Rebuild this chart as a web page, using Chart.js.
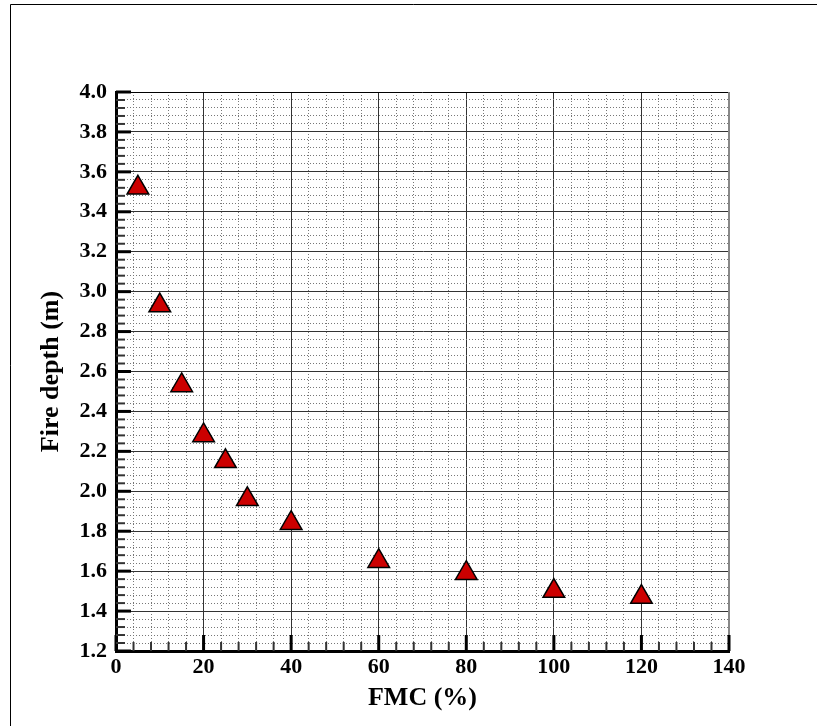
<!DOCTYPE html>
<html>
<head>
<meta charset="utf-8">
<script src="https://cdn.jsdelivr.net/npm/chart.js@4/dist/chart.umd.min.js"></script>
<style>
  html, body { margin: 0; padding: 0; background: #fff; }
  #wrap { position: relative; width: 817px; height: 726px; }
</style>
</head>
<body>
<div id="wrap"><canvas id="chart" width="817" height="726"></canvas></div>
<script>
// ---- data ----
const fmc = [5, 10, 15, 20, 25, 30, 40, 60, 80, 100, 120];
const fireDepth = [3.52, 2.93, 2.53, 2.28, 2.15, 1.96, 1.84, 1.65, 1.59, 1.50, 1.47];

// ---- tick labels ----
const xTickLabels = ['0', '20', '40', '60', '80', '100', '120', '140'];
const yTickLabels = ['1.2', '1.4', '1.6', '1.8', '2.0', '2.2', '2.4', '2.6', '2.8', '3.0', '3.2', '3.4', '3.6', '3.8', '4.0'];

const serif = 'Liberation Serif';

function isMajorX(v) { return xTickLabels.includes(String(Math.round(v))) && Math.abs(v - Math.round(v)) < 1e-6; }
function isMajorY(v) { return yTickLabels.includes(v.toFixed(1)) && Math.abs(v * 100 - Math.round(v * 100)) < 1e-6 && Math.round(v * 100) % 20 === 0; }

// inward tick marks + top/right frame + outer page border
const frameAndTicks = {
  id: 'frameAndTicks',
  beforeDraw(chart) {
    const c = chart.ctx;
    c.save();
    c.strokeStyle = '#000';
    c.lineWidth = 1;
    c.beginPath();
    c.moveTo(10.5, 726); c.lineTo(10.5, 4.5); c.lineTo(817, 4.5);
    c.stroke();
    c.restore();
  },
  beforeDatasetsDraw(chart) {
    const c = chart.ctx;
    const a = chart.chartArea;
    const x = chart.scales.x, y = chart.scales.y;
    c.save();
    // top and right frame
    c.lineWidth = 1;
    c.strokeStyle = '#000';
    c.beginPath(); c.moveTo(a.left, a.top + 0.5); c.lineTo(a.right, a.top + 0.5); c.stroke();
    c.lineWidth = 2;
    c.strokeStyle = '#888';
    c.beginPath(); c.moveTo(a.right, a.top); c.lineTo(a.right, a.bottom); c.stroke();
    // x ticks on bottom axis, pointing in
    x.ticks.forEach(t => {
      const px = x.getPixelForValue(t.value);
      const major = isMajorX(t.value);
      c.lineWidth = major ? 3 : 2;
      c.strokeStyle = major ? '#000' : '#333';
      c.beginPath(); c.moveTo(px, a.bottom); c.lineTo(px, a.bottom - (major ? 16 : 9)); c.stroke();
    });
    // y ticks on left axis, pointing in
    y.ticks.forEach(t => {
      const py = y.getPixelForValue(t.value);
      const major = isMajorY(t.value);
      c.lineWidth = major ? 3 : 2;
      c.strokeStyle = major ? '#000' : '#333';
      c.beginPath(); c.moveTo(a.left, py); c.lineTo(a.left + (major ? 15 : 9), py); c.stroke();
    });
    c.restore();
  }
};

new Chart(document.getElementById('chart'), {
  type: 'scatter',
  data: {
    datasets: [{
      data: fmc.map((v, i) => ({ x: v, y: fireDepth[i] })),
      pointStyle: 'triangle',
      pointRadius: 12.5,
      pointHoverRadius: 12.5,
      backgroundColor: '#cc0000',
      borderColor: '#000',
      borderWidth: 1.5
    }]
  },
  options: {
    responsive: false,
    animation: false,
    layout: { padding: { left: 20, right: 88, top: 92, bottom: 5 } },
    plugins: { legend: { display: false }, tooltip: { enabled: false } },
    scales: {
      x: {
        type: 'linear',
        min: 0, max: 140,
        afterFit(s) { s.height = 70; },
        ticks: {
          stepSize: 4,
          maxTicksLimit: 100,
          autoSkip: false,
          maxRotation: 0,
          padding: 3,
          color: '#000',
          font: { family: serif, size: 22, weight: 'bold' },
          callback: v => isMajorX(v) ? String(Math.round(v)) : ''
        },
        grid: {
          drawTicks: false,
          lineWidth: 1,
          color: ctx => {
            const v = ctx.tick ? ctx.tick.value : 0;
            if (v <= 0 || v >= 140) return 'rgba(0,0,0,0)';
            return isMajorX(v) ? '#333' : '#777';
          }
        },
        border: {
          display: true, color: '#000', width: 3,
          dash: ctx => (ctx.tick && !isMajorX(ctx.tick.value)) ? [1, 2] : []
        },
        title: {
          display: true,
          text: 'FMC (%)',
          color: '#000',
          font: { family: serif, size: 26, weight: 'bold' },
          padding: { top: 0, bottom: 7 }
        }
      },
      y: {
        type: 'linear',
        min: 1.2, max: 4.0,
        afterFit(s) { s.width = 96; },
        ticks: {
          stepSize: 0.04,
          maxTicksLimit: 100,
          autoSkip: false,
          padding: 9,
          color: '#000',
          font: { family: serif, size: 22, weight: 'bold' },
          callback: v => isMajorY(v) ? v.toFixed(1) : ''
        },
        grid: {
          drawTicks: false,
          lineWidth: 1,
          color: ctx => {
            const v = ctx.tick ? ctx.tick.value : 0;
            if (v <= 1.2001 || v >= 3.9999) return 'rgba(0,0,0,0)';
            return isMajorY(v) ? '#333' : '#777';
          }
        },
        border: {
          display: true, color: '#000', width: 3,
          dash: ctx => (ctx.tick && !isMajorY(ctx.tick.value)) ? [1, 2] : []
        },
        title: {
          display: true,
          text: 'Fire depth (m)',
          color: '#000',
          font: { family: serif, size: 26, weight: 'bold' },
          padding: { top: 16, bottom: 0 }
        }
      }
    }
  },
  plugins: [frameAndTicks]
});
</script>
</body>
</html>
